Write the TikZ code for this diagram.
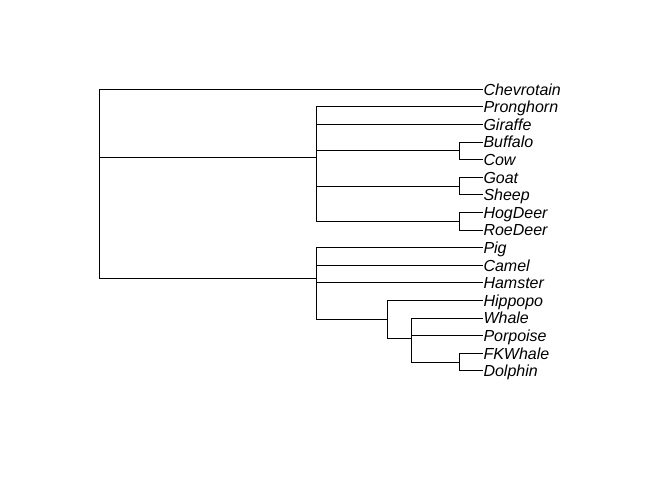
\documentclass[tikz,border=0pt]{standalone}
\usepackage{fontspec}
\setmainfont{Liberation Sans}
\usetikzlibrary{calc}

\begin{document}
\begin{tikzpicture}[x=1pt,y=-1pt,line width=1pt,
    tip/.style={anchor=west,inner sep=0pt,text height=11.5pt,text depth=0pt,
      font=\fontsize{16}{16}\selectfont\itshape}]
    \useasboundingbox (0,0) rectangle (672,480);
    \node[tip] (chev) at (483,89.3) {Chevrotain};
    \node[tip] (pron) at (483,106.9) {Pronghorn};
    \node[tip] (gira) at (483,124.5) {Giraffe};
    \node[tip] (buff) at (483,142.1) {Buffalo};
    \node[tip] (cow) at (483,159.7) {Cow};
    \node[tip] (goat) at (483,177.3) {Goat};
    \node[tip] (shee) at (483,194.9) {Sheep};
    \node[tip] (hogd) at (483,212.5) {HogDeer};
    \node[tip] (roed) at (483,230.1) {RoeDeer};
    \node[tip] (pig) at (483,247.7) {Pig};
    \node[tip] (came) at (483,265.3) {Camel};
    \node[tip] (hams) at (483,282.9) {Hamster};
    \node[tip] (hipp) at (483,300.5) {Hippopo};
    \node[tip] (whal) at (483,318.1) {Whale};
    \node[tip] (porp) at (483,335.7) {Porpoise};
    \node[tip] (fkwh) at (483,353.3) {FKWhale};
    \node[tip] (dolp) at (483,370.9) {Dolphin};
    \coordinate (root) at (99,175.37);
    \coordinate (rumi) at (316,157.94);
    \coordinate (bovi) at (459,150.9);
    \coordinate (capr) at (459,186.1);
    \coordinate (cerv) at (459,221.3);
    \coordinate (nonr) at (316,278.87);
    \coordinate (hipc) at (387,319.57);
    \coordinate (ceta) at (411,338.63);
    \coordinate (delp) at (459,362.1);
    \draw (root) |- (chev.west);
    \draw (root) |- (rumi);
    \draw (root) |- (nonr);
    \draw (rumi) |- (pron.west);
    \draw (rumi) |- (gira.west);
    \draw (rumi) |- (bovi);
    \draw (rumi) |- (capr);
    \draw (rumi) |- (cerv);
    \draw (bovi) |- (buff.west);
    \draw (bovi) |- (cow.west);
    \draw (capr) |- (goat.west);
    \draw (capr) |- (shee.west);
    \draw (cerv) |- (hogd.west);
    \draw (cerv) |- (roed.west);
    \draw (nonr) |- (pig.west);
    \draw (nonr) |- (came.west);
    \draw (nonr) |- (hams.west);
    \draw (nonr) |- (hipc);
    \draw (hipc) |- (hipp.west);
    \draw (hipc) |- (ceta);
    \draw (ceta) |- (whal.west);
    \draw (ceta) |- (porp.west);
    \draw (ceta) |- (delp);
    \draw (delp) |- (fkwh.west);
    \draw (delp) |- (dolp.west);
  \end{tikzpicture}
\end{document}
